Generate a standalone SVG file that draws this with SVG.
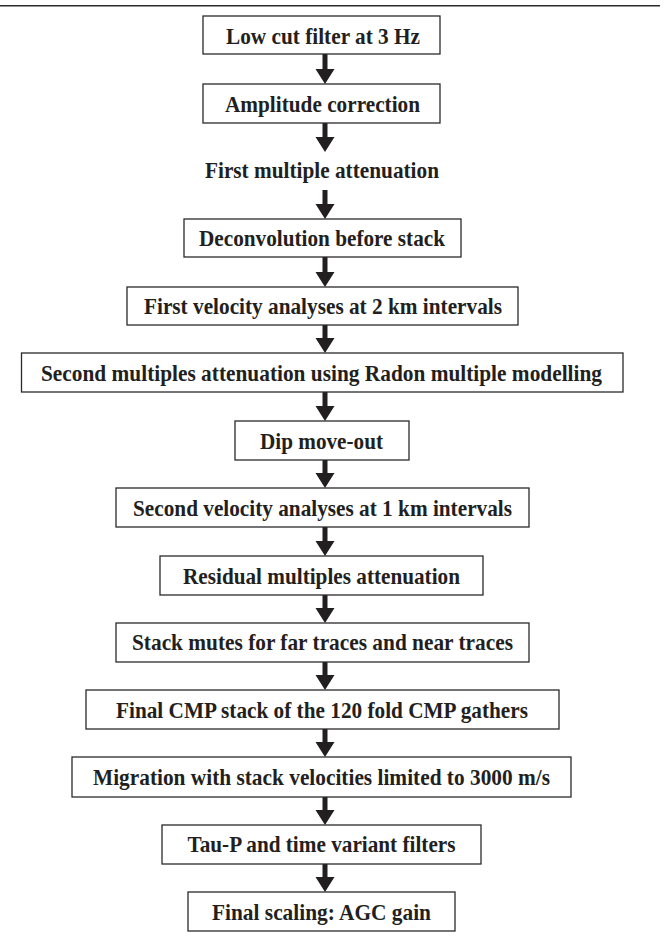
<svg xmlns="http://www.w3.org/2000/svg" width="668" height="940" viewBox="0 0 668 940">
<defs>
<style>
.box{fill:#fff;stroke:#2a2a2a;stroke-width:1.3}
.t{font-family:"Liberation Serif","Times New Roman",serif;font-weight:bold;font-size:23px;fill:#231f20;text-anchor:middle}
.arr{fill:#231f20}
</style>
</defs>
<rect width="668" height="940" fill="#fff"/>
<line x1="0" y1="5.7" x2="660" y2="5.7" stroke="#2a2a2a" stroke-width="1.5"/>
<g id="connectors" class="arr">
<path d="M322.5,54 h5 v15 h7 l-9.5,15 l-9.5,-15 h7 z"/>
<path d="M322.5,123 h5 v14 h7 l-9.5,15 l-9.5,-15 h7 z"/>
<path d="M322.5,190 h5 v14 h7 l-9.5,15 l-9.5,-15 h7 z"/>
<path d="M322.5,257 h5 v15 h7 l-9.5,15 l-9.5,-15 h7 z"/>
<path d="M322.5,325 h5 v13 h7 l-9.5,15 l-9.5,-15 h7 z"/>
<path d="M322.5,392 h5 v14 h7 l-9.5,15 l-9.5,-15 h7 z"/>
<path d="M322.5,460 h5 v13 h7 l-9.5,15 l-9.5,-15 h7 z"/>
<path d="M322.5,527 h5 v14 h7 l-9.5,15 l-9.5,-15 h7 z"/>
<path d="M322.5,595 h5 v13 h7 l-9.5,15 l-9.5,-15 h7 z"/>
<path d="M322.5,662 h5 v13 h7 l-9.5,15 l-9.5,-15 h7 z"/>
<path d="M322.5,729 h5 v13 h7 l-9.5,15 l-9.5,-15 h7 z"/>
<path d="M322.5,797 h5 v13 h7 l-9.5,15 l-9.5,-15 h7 z"/>
<path d="M322.5,864 h5 v13 h7 l-9.5,15 l-9.5,-15 h7 z"/>
</g>
<g id="n1"><rect class="box" x="203" y="16" width="237" height="38"/><text class="t" x="323" y="43.5" textLength="194" lengthAdjust="spacingAndGlyphs">Low cut filter at 3 Hz</text></g>
<g id="n2"><rect class="box" x="203" y="84" width="237" height="39"/><text class="t" x="322.5" y="111.5" textLength="195" lengthAdjust="spacingAndGlyphs">Amplitude correction</text></g>
<g id="n3"><text class="t" x="322" y="178" textLength="234" lengthAdjust="spacingAndGlyphs">First multiple attenuation</text></g>
<g id="n4"><rect class="box" x="184" y="219" width="277" height="38"/><text class="t" x="322" y="246" textLength="246" lengthAdjust="spacingAndGlyphs">Deconvolution before stack</text></g>
<g id="n5"><rect class="box" x="127" y="287" width="391" height="38"/><text class="t" x="323" y="314" textLength="358" lengthAdjust="spacingAndGlyphs">First velocity analyses at 2 km intervals</text></g>
<g id="n6"><rect class="box" x="21.5" y="353" width="601.5" height="39"/><text class="t" x="321.5" y="380.5" textLength="561" lengthAdjust="spacingAndGlyphs">Second multiples attenuation using Radon multiple modelling</text></g>
<g id="n7"><rect class="box" x="235" y="421" width="174" height="39"/><text class="t" x="321.5" y="449" textLength="123" lengthAdjust="spacingAndGlyphs">Dip move-out</text></g>
<g id="n8"><rect class="box" x="116" y="488" width="413" height="39"/><text class="t" x="322.5" y="515.5" textLength="379" lengthAdjust="spacingAndGlyphs">Second velocity analyses at 1 km intervals</text></g>
<g id="n9"><rect class="box" x="160" y="556" width="323" height="39"/><text class="t" x="321.5" y="583.5" textLength="277" lengthAdjust="spacingAndGlyphs">Residual multiples attenuation</text></g>
<g id="n10"><rect class="box" x="116" y="623" width="413" height="39"/><text class="t" x="322.5" y="650" textLength="381" lengthAdjust="spacingAndGlyphs">Stack mutes for far traces and near traces</text></g>
<g id="n11"><rect class="box" x="86" y="690" width="473" height="39"/><text class="t" x="322" y="718" textLength="412" lengthAdjust="spacingAndGlyphs">Final CMP stack of the 120 fold CMP gathers</text></g>
<g id="n12"><rect class="box" x="72" y="757" width="499" height="40"/><text class="t" x="321.5" y="784.5" textLength="457" lengthAdjust="spacingAndGlyphs">Migration with stack velocities limited to 3000 m/s</text></g>
<g id="n13"><rect class="box" x="162" y="825" width="319" height="39"/><text class="t" x="321.5" y="852" textLength="268" lengthAdjust="spacingAndGlyphs">Tau-P and time variant filters</text></g>
<g id="n14"><rect class="box" x="188" y="892" width="267" height="39"/><text class="t" x="321.5" y="919.5" textLength="219" lengthAdjust="spacingAndGlyphs">Final scaling: AGC gain</text></g>
</svg>
